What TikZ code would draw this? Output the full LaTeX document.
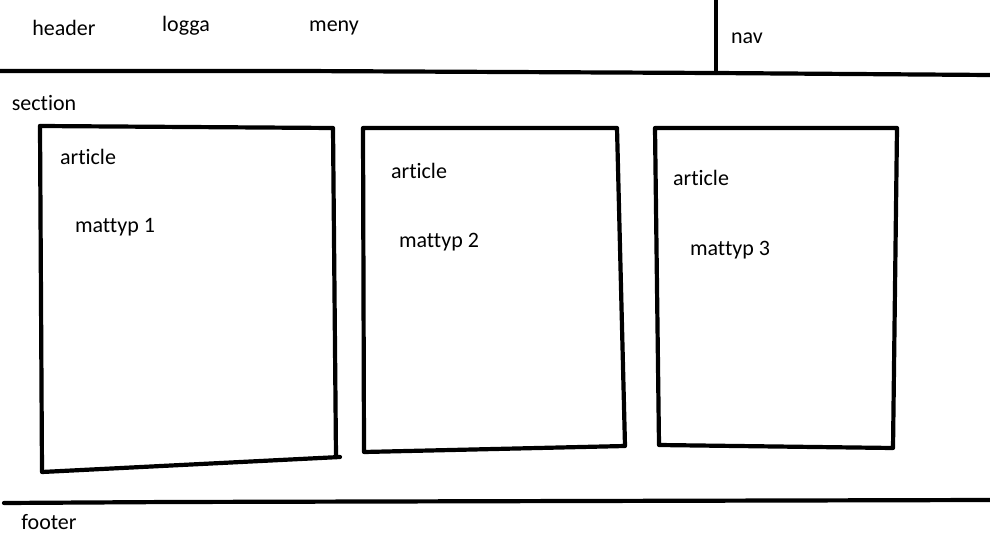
\documentclass[tikz,border=0pt]{standalone}
\usepackage{fontspec}
\setmainfont[Ligatures=NoCommon]{Carlito}

\begin{document}
\begin{tikzpicture}[x=1pt, y=-1pt, every node/.style={font=\fontsize{22}{26}\selectfont, inner sep=0pt},
  pen/.style={line width=4.2pt, line cap=round, line join=round}]

\useasboundingbox (0,0) rectangle (990,540);

% header and nav
\draw[pen] (0,71) -- (300,71) -- (715,73) -- (990,75);
\draw[pen] (716,0) -- (716,73);

% footer line
\draw[pen] (4,503) -- (170,502) -- (990,500);

% the three articles
\draw[pen] (40,126) -- (333,128) -- (336,457);
\draw[pen] (40,126) -- (42,472) -- (340,457);
\draw[pen] (363,128) -- (617,128) -- (625,446) -- (364,452) -- cycle;
\draw[pen] (655,128) -- (897,128) -- (893,448) -- (659,445) -- cycle;

\node (header) at (64,28) {header};
\node (logga) at (186,26) {logga};
\node (meny) at (334,28) {meny};
\node (nav) at (747,38) {nav};
\node (section) at (44,103) {section};
\node (footer) at (49,522) {footer};

\node (art1) at (88,157) {article};
\node (typ1) at (115,227) {mattyp 1};
\node (art2) at (419,171) {article};
\node (typ2) at (439,242) {mattyp 2};
\node (art3) at (701,178) {article};
\node (typ3) at (730,250) {mattyp 3};

\end{tikzpicture}
\end{document}
